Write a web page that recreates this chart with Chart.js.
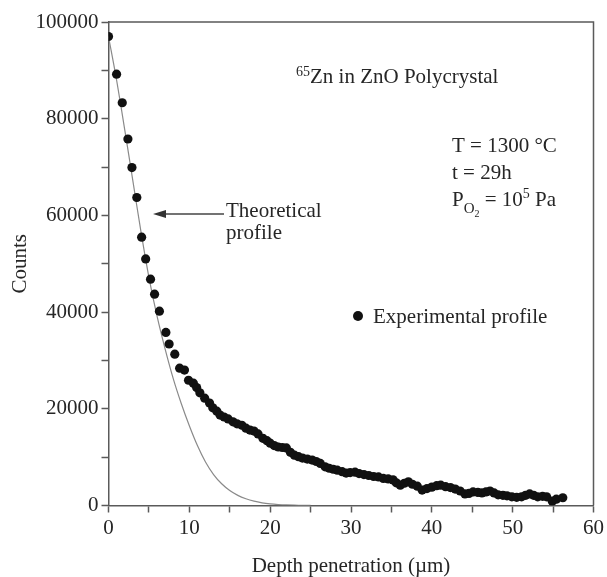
<!DOCTYPE html>
<html>
<head>
<meta charset="utf-8">
<script src="https://cdn.jsdelivr.net/npm/chart.js@4/dist/chart.umd.min.js"></script>
<style>
  html, body { margin: 0; padding: 0; background: #fff; }
  #wrap { width: 607px; height: 577px; }
</style>
</head>
<body>
<div id="wrap"><canvas id="depth-chart" width="607" height="577"></canvas></div>
<script>
// experimental profile (depth in um, counts)
const expDepth = [
  0.0, 1.0, 1.7, 2.4, 2.9, 3.5, 4.1, 4.6, 5.2, 5.7, 6.3, 7.1, 7.5, 8.2, 8.8, 9.4, 9.9,
  10.5, 10.9, 11.3, 11.9, 12.5, 12.9, 13.4, 13.8, 14.3, 14.8, 15.4, 15.9, 16.5, 17.0, 17.5,
  18.0, 18.5, 19.1, 19.6, 20.0, 20.5, 21.0, 21.5, 22.0, 22.5, 23.0, 23.5, 24.0, 24.6, 25.2,
  25.7, 26.2, 26.8, 27.3, 27.8, 28.3, 28.9, 29.4, 29.9, 30.5, 31.0, 31.6, 32.2, 32.8, 33.4,
  34.0, 34.6, 35.2, 35.6, 36.1, 36.6, 37.1, 37.6, 38.2, 38.8, 39.4, 40.0, 40.6, 41.1, 41.7,
  42.3, 42.9, 43.5, 44.1, 44.6, 45.1, 45.7, 46.2, 46.7, 47.2, 47.7, 48.2, 48.8, 49.3, 49.9,
  50.5, 51.1, 51.6, 52.1, 52.6, 53.1, 53.7, 54.2, 54.9, 55.4, 56.2
];
const expCounts = [
  97000, 89200, 83300, 75800, 69900, 63700, 55500, 51000, 46800, 43700, 40200, 35800, 33400, 31300, 28400, 28000, 25900,
  25300, 24400, 23300, 22200, 21200, 20200, 19500, 18700, 18300, 17900, 17300, 16900, 16600, 16000, 15600,
  15400, 14800, 13900, 13400, 12900, 12400, 12100, 12000, 11900, 11000, 10400, 10100, 9800, 9600, 9400,
  9100, 8700, 8000, 7700, 7500, 7300, 7000, 6700, 6800, 6900, 6600, 6400, 6200, 6000, 5900,
  5600, 5500, 5300, 4700, 4200, 4600, 4900, 4400, 4000, 3200, 3500, 3800, 4100, 4200, 3900,
  3700, 3400, 3000, 2400, 2500, 2800, 2700, 2600, 2800, 3000, 2600, 2200, 2100, 2000, 1800,
  1700, 1800, 2100, 2400, 2100, 1800, 1900, 1800, 900, 1300, 1600
];

// theoretical profile
const theoDepth = [0, 1, 2, 3, 4, 5, 6, 7, 8, 9, 10, 11, 12, 13, 14, 15, 16, 17, 18, 19, 20, 21, 22, 23, 24, 25];
const theoCounts = [97000, 88000, 77800, 67300, 56800, 47200, 39200, 32400, 26300, 21100, 16500, 12400, 9000,
  6400, 4500, 3100, 2100, 1400, 900, 560, 340, 200, 110, 60, 30, 10];

const xLabels = [0, 10, 20, 30, 40, 50, 60];
const yLabels = [0, 20000, 40000, 60000, 80000, 100000];

const SERIF = '"Liberation Serif", "Times New Roman", serif';
const AXIS = "#5a5a5a";
const TEXT = "#262626";

function pairs(xs, ys) {
  return xs.map((x, i) => ({ x: x, y: ys[i] }));
}

// write a run of [text, size, dy] pieces one after another
function run(ctx, x, y, parts) {
  for (const [t, size, dy] of parts) {
    ctx.font = size + "px " + SERIF;
    ctx.fillText(t, x, y + dy);
    x += ctx.measureText(t).width;
  }
}

// frame on top/right plus the text notes
const notes = {
  id: "notes",
  afterDraw(chart) {
    const ctx = chart.ctx;
    const a = chart.chartArea;
    ctx.save();
    ctx.strokeStyle = AXIS;
    ctx.lineWidth = 1.5;
    ctx.beginPath();
    ctx.moveTo(a.left, a.top);
    ctx.lineTo(a.right, a.top);
    ctx.lineTo(a.right, a.bottom);
    ctx.stroke();

    ctx.fillStyle = TEXT;
    ctx.textBaseline = "alphabetic";
    ctx.textAlign = "left";

    run(ctx, 296, 83, [["65", 14, -7], ["Zn in ZnO Polycrystal", 21, 0]]);

    ctx.font = "21px " + SERIF;
    ctx.fillText("T = 1300 \u00b0C", 452, 152);
    ctx.fillText("t = 29h", 452, 179);
    run(ctx, 452, 206, [["P", 21, 0], ["O", 15, 7], ["2", 10, 11], [" = 10", 21, 0], ["5", 14, -8], [" Pa", 21, 0]]);

    // theoretical label + arrow
    ctx.font = "21px " + SERIF;
    ctx.fillText("Theoretical", 226, 217);
    ctx.fillText("profile", 226, 239);
    ctx.strokeStyle = "#444";
    ctx.lineWidth = 1.3;
    ctx.beginPath();
    ctx.moveTo(224, 214);
    ctx.lineTo(162, 214);
    ctx.stroke();
    ctx.fillStyle = "#333";
    ctx.beginPath();
    ctx.moveTo(153, 214);
    ctx.lineTo(166, 210);
    ctx.lineTo(166, 218);
    ctx.closePath();
    ctx.fill();

    // experimental legend
    ctx.fillStyle = "#111";
    ctx.beginPath();
    ctx.arc(358, 316, 5, 0, Math.PI * 2);
    ctx.fill();
    ctx.fillStyle = TEXT;
    ctx.fillText("Experimental profile", 373, 323);
    ctx.restore();
  }
};

const DCHART = document.getElementById("depth-chart");

let depthChart = new Chart(DCHART, {
  type: "scatter",
  data: {
    datasets: [
      {
        label: "Experimental profile",
        data: pairs(expDepth, expCounts),
        showLine: false,
        pointRadius: 4.6,
        pointBackgroundColor: "#111",
        pointBorderColor: "#111",
        pointBorderWidth: 0,
        order: 1,
      },
      {
        label: "Theoretical profile",
        data: pairs(theoDepth, theoCounts),
        showLine: true,
        borderColor: "#8a8a8a",
        borderWidth: 1.2,
        pointRadius: 0,
        tension: 0.3,
        fill: false,
        order: 2,
      },
    ],
  },
  options: {
    responsive: false,
    animation: false,
    devicePixelRatio: 1,
    layout: { padding: { left: 0, right: 12.5, top: 22, bottom: 0 } },
    plugins: { legend: { display: false }, tooltip: { enabled: false } },
    scales: {
      x: {
        type: "linear",
        min: 0,
        max: 60,
        afterFit: (s) => { s.height = 71.5; },
        ticks: {
          stepSize: 5,
          autoSkip: false,
          maxRotation: 0,
          padding: 3,
          color: TEXT,
          font: { family: SERIF, size: 21 },
          callback: (v) => (xLabels.includes(v) ? String(v) : ""),
        },
        grid: { drawOnChartArea: false, drawTicks: true, tickLength: 7, tickColor: AXIS, tickWidth: 1.5 },
        border: { display: true, color: AXIS, width: 1.5 },
        title: {
          display: true,
          text: "Depth penetration (\u00b5m)",
          color: TEXT,
          font: { family: SERIF, size: 21, lineHeight: 1 },
          padding: 0,
        },
      },
      y: {
        type: "linear",
        min: 0,
        max: 100000,
        afterFit: (s) => { s.width = 108.5; },
        ticks: {
          stepSize: 10000,
          autoSkip: false,
          padding: 3,
          color: TEXT,
          font: { family: SERIF, size: 21 },
          callback: (v) => (yLabels.includes(v) ? String(v) : ""),
        },
        grid: { drawOnChartArea: false, drawTicks: true, tickLength: 7, tickColor: AXIS, tickWidth: 1.5 },
        border: { display: true, color: AXIS, width: 1.5 },
        title: {
          display: true,
          text: "Counts",
          color: TEXT,
          font: { family: SERIF, size: 21, lineHeight: 1.2 },
          padding: { top: 8, bottom: 0 },
        },
      },
    },
  },
  plugins: [notes],
});
</script>
</body>
</html>
